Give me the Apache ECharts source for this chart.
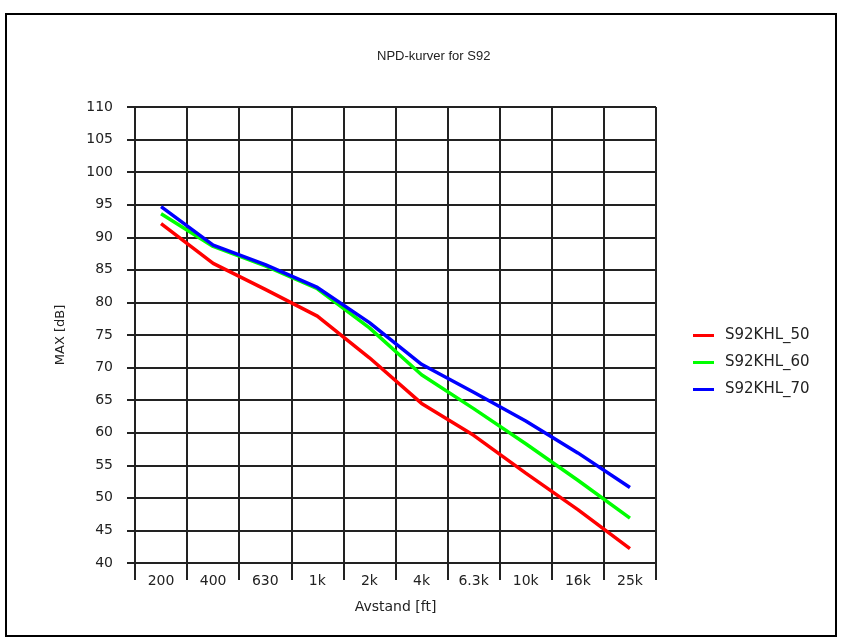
<!DOCTYPE html>
<html>
<head>
<meta charset="utf-8">
<script src="https://cdn.jsdelivr.net/npm/echarts@6/dist/echarts.min.js"></script>
<style>html,body{margin:0;padding:0;background:#fff}#c{width:843px;height:639px}</style>
</head>
<body>
<div id="c"></div>
<script>
const categories = ['200','400','630','1k','2k','4k','6.3k','10k','16k','25k'];
const s50 = [92.1, 86.0, 82.0, 77.9, 71.5, 64.5, 59.6, 53.8, 48.2, 42.2];
const s60 = [93.6, 88.6, 85.6, 82.1, 76.1, 68.9, 63.7, 58.3, 52.7, 46.9];
const s70 = [94.7, 88.8, 85.8, 82.3, 76.9, 70.5, 66.2, 61.8, 56.9, 51.6];
const seriesNames = ['S92KHL_50','S92KHL_60','S92KHL_70'];
const seriesColors = ['#ff0000','#00ff00','#0000ff'];
const seriesData = [s50, s60, s70];

const FONT = 'DejaVu Sans';
const chart = echarts.init(document.getElementById('c'), null, {renderer:'canvas'});
chart.setOption({
  backgroundColor: '#fff',
  animation: false,
  graphic: [{
    type: 'rect', shape: {x: 6, y: 14, width: 830, height: 622},
    style: {fill: 'none', stroke: '#000', lineWidth: 2}, z: -1
  }],
  title: {
    text: 'NPD-kurver for S92', left: 372, top: 45,
    textStyle: {fontFamily: 'Liberation Sans', fontSize: 13, fontWeight: 'normal', color: '#222'}
  },
  legend: {
    orient: 'vertical', left: 688, top: 323,
    icon: 'rect', itemWidth: 21, itemHeight: 3, itemGap: 12,
    data: seriesNames,
    textStyle: {fontFamily: FONT, fontSize: 15, color: '#222', padding: [0,0,0,6]}
  },
  grid: {left: 135, right: 187, top: 107, bottom: 76, containLabel: false},
  xAxis: {
    type: 'category', data: categories, boundaryGap: true,
    name: 'Avstand [ft]', nameLocation: 'middle', nameGap: 37,
    nameTextStyle: {fontFamily: FONT, fontSize: 14, color: '#222'},
    axisLine: {lineStyle: {color: '#222', width: 2}},
    axisTick: {show: true, length: 17, lineStyle: {color: '#222', width: 2}},
    axisLabel: {fontFamily: FONT, fontSize: 14, color: '#222', margin: 11, interval: 0},
    splitLine: {show: true, interval: 0, lineStyle: {color: '#222', width: 2}}
  },
  yAxis: {
    type: 'value', min: 40, max: 110, interval: 5,
    name: 'MAX [dB]', nameLocation: 'middle', nameGap: 68, nameRotate: 90,
    nameTextStyle: {fontFamily: FONT, fontSize: 13, color: '#222'},
    axisLine: {show: true, lineStyle: {color: '#222', width: 2}},
    axisTick: {show: true, length: 8, lineStyle: {color: '#222', width: 2}},
    axisLabel: {fontFamily: FONT, fontSize: 14, color: '#222', margin: 22},
    splitLine: {show: true, lineStyle: {color: '#222', width: 2}}
  },
  series: seriesData.map((d, i) => ({
    name: seriesNames[i], type: 'line', data: d,
    symbol: 'none', lineStyle: {color: seriesColors[i], width: 3.5},
    itemStyle: {color: seriesColors[i]}, z: 3 + i
  }))
});
</script>
</body>
</html>
